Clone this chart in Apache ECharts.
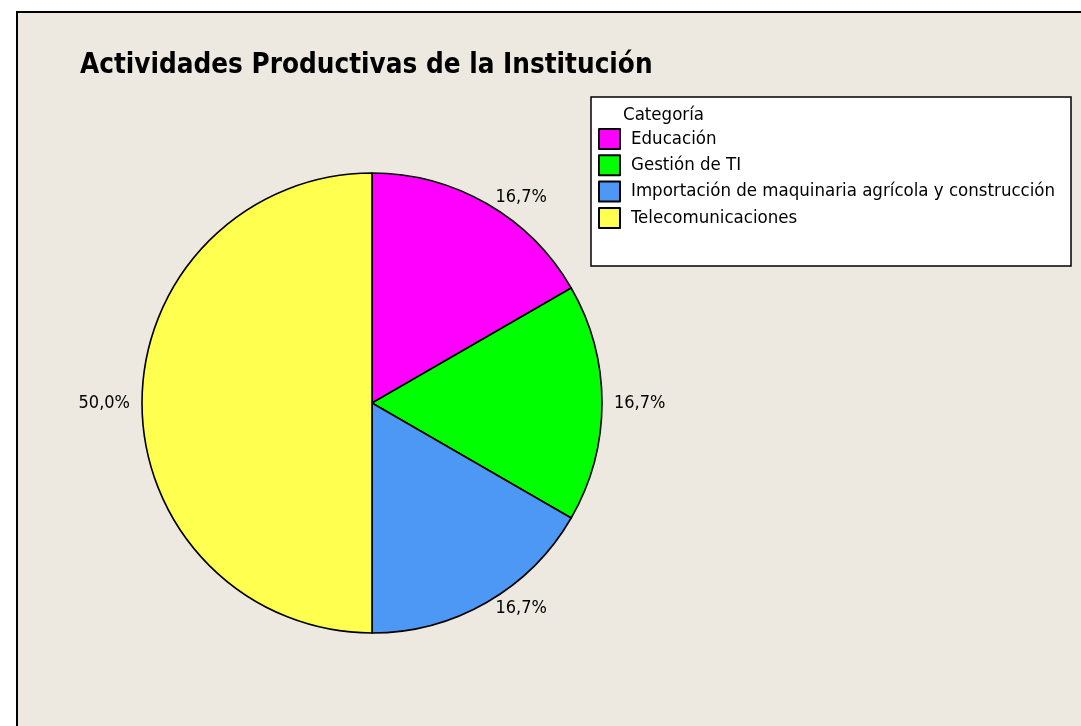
<!DOCTYPE html>
<html>
<head>
<meta charset="utf-8">
<script src="https://cdn.jsdelivr.net/npm/echarts@6/dist/echarts.min.js"></script>
<style>
  html, body { margin: 0; padding: 0; background: #fff; }
  #chart { width: 1081px; height: 726px; }
</style>
</head>
<body>
<div id="chart"></div>
<script>
// pie data
var categories = ['Educación', 'Gestión de TI', 'Importación de maquinaria agrícola y construcción', 'Telecomunicaciones']
var counts = [1, 1, 1, 3]
var colors = ['#ff00ff', '#00ff00', '#4d97f5', '#ffff4f']

var font = '"DejaVu Sans Condensed", "DejaVu Sans", sans-serif'

var chart = echarts.init(document.getElementById('chart'))
var option = {
  backgroundColor: '#ffffff',
  animation: false,
  graphic: [
    {
      type: 'rect', z: -10,
      shape: { x: 17, y: 12, width: 1080, height: 730 },
      style: { fill: '#ede9e0', stroke: '#000', lineWidth: 2 }
    },
    {
      type: 'rect', z: -5,
      shape: { x: 591, y: 97, width: 480, height: 169 },
      style: { fill: '#fff', stroke: '#000', lineWidth: 1.5 }
    },
    {
      type: 'text', z: 5,
      left: 623, top: 106,
      style: { text: 'Categoría', font: '18.5px ' + font, fill: '#000' }
    }
  ],
  title: {
    text: 'Actividades Productivas de la Institución',
    left: 75, top: 47,
    textStyle: { fontFamily: font, fontSize: 27.6, fontWeight: 'bold', color: '#000' }
  },
  legend: {
    orient: 'vertical',
    left: 598, top: 128,
    padding: 0,
    itemWidth: 21, itemHeight: 20, itemGap: 4.3,
    icon: 'rect',
    selectedMode: false,
    textStyle: { fontFamily: font, fontSize: 18.5, lineHeight: 20, color: '#000', padding: [0, 0, 0, 6] },
    data: categories
  },
  series: [{
    type: 'pie',
    center: [372, 403],
    radius: 230,
    startAngle: 90,
    clockwise: true,
    avoidLabelOverlap: false,
    itemStyle: { borderColor: '#000', borderWidth: 1.6 },
    label: {
      show: true,
      position: 'outside',
      fontFamily: font,
      fontSize: 18,
      color: '#000',
      formatter: function (p) {
        return p.percent.toFixed(1).replace('.', ',') + '%'
      }
    },
    labelLine: { show: false, length: 7, length2: 0 },
    emphasis: { disabled: true },
    data: categories.map(function (name, i) {
      return { name: name, value: counts[i], itemStyle: { color: colors[i] } }
    })
  }]
}
chart.setOption(option)
</script>
</body>
</html>
